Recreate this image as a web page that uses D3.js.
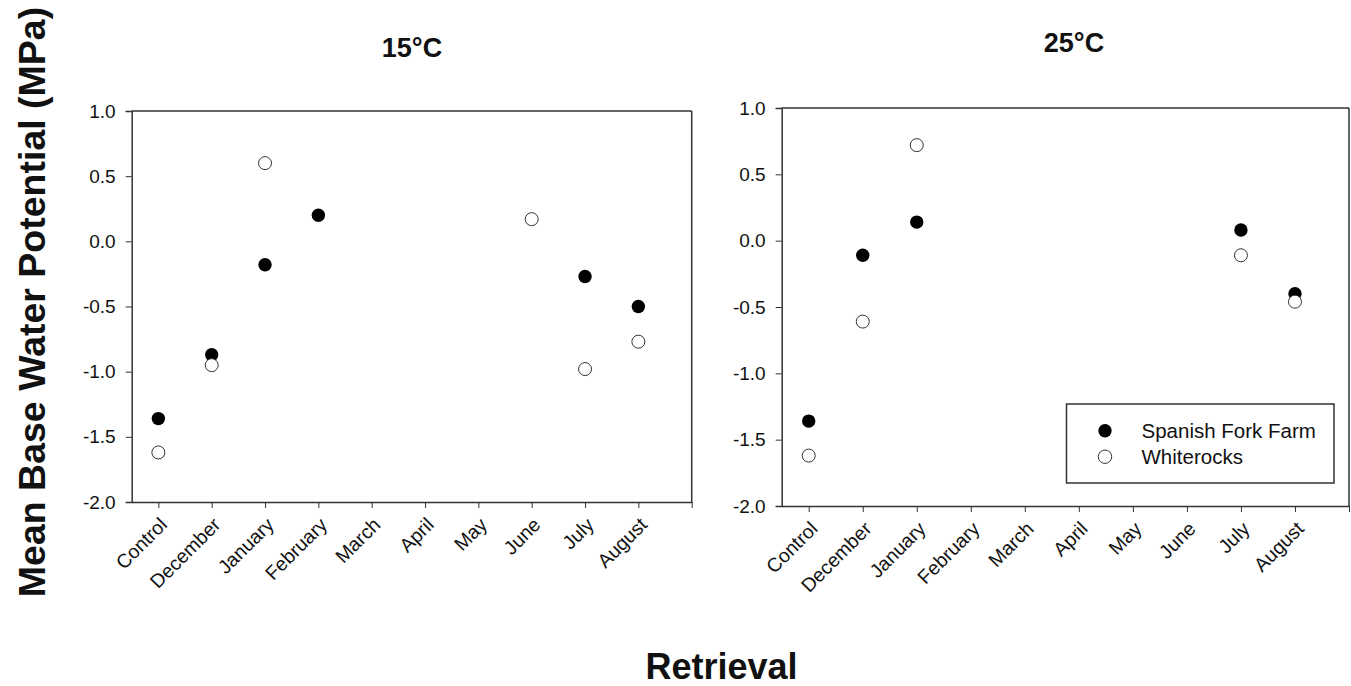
<!DOCTYPE html>
<html><head><meta charset="utf-8">
<script src="https://cdn.jsdelivr.net/npm/d3@7"></script>
<style>body{margin:0;background:#fff}svg{display:block;font-family:Arial,'Liberation Sans',sans-serif}</style>
</head><body>
<svg id="c" width="1351" height="686"></svg>
<script>
const categories = ["Control","December","January","February","March","April","May","June","July","August"];
const yTicks = [1.0, 0.5, 0.0, -0.5, -1.0, -1.5, -2.0];
const seriesNames = ["Spanish Fork Farm", "Whiterocks"];
// 15°C panel
const sff15 = [-1.36, -0.87, -0.18, 0.20, null, null, null, null, -0.27, -0.50];
const wr15  = [-1.62, -0.95, 0.60, null, null, null, null, 0.17, -0.98, -0.77];
// 25°C panel
const sff25 = [-1.36, -0.11, 0.14, null, null, null, null, null, 0.08, -0.40];
const wr25  = [-1.62, -0.61, 0.72, null, null, null, null, null, -0.11, -0.46];

const svg = d3.select("#c");
const AX = "#333";

function panel(opts){
  const {x0,x1,y0,y1,title,titleX,titleY,sff,wr,legend} = opts;
  const g = svg.append("g");
  const x = d3.scaleLinear().domain([-0.5, 10]).range([x0, x1]);
  const y = d3.scaleLinear().domain([-2, 1]).range([y1, y0]);
  g.append("line").attr("x1",x0).attr("x2",x1).attr("y1",y0).attr("y2",y0).attr("stroke",AX).attr("stroke-width",1.5);
  g.append("line").attr("x1",x1).attr("x2",x1).attr("y1",y0).attr("y2",y1).attr("stroke",AX).attr("stroke-width",1.5);
  const ya = g.append("g").attr("transform",`translate(${x0},0)`)
    .call(d3.axisLeft(y).tickValues(yTicks).tickFormat(d3.format(".1f")).tickSize(6).tickPadding(10));
  ya.select(".domain").attr("stroke",AX).attr("stroke-width",1.5);
  ya.selectAll(".tick line").attr("stroke",AX);
  ya.selectAll(".tick text").attr("font-size",19).attr("fill","#111").attr("font-family","Arial,'Liberation Sans',sans-serif")
    .text(d => d3.format(".1f")(d).replace("−","-"));
  const xa = g.append("g").attr("transform",`translate(0,${y1})`)
    .call(d3.axisBottom(x).tickValues(d3.range(0,11)).tickFormat(()=>"").tickSize(6).tickSizeOuter(0));
  xa.select(".domain").attr("stroke",AX).attr("stroke-width",1.5);
  xa.selectAll(".tick line").attr("stroke",AX);
  g.selectAll("text.xl").data(categories).enter().append("text").attr("class","xl")
    .attr("transform",(d,i)=>`translate(${x(i)+10},${y1+24}) rotate(-45)`)
    .attr("text-anchor","end").attr("font-size",19.5).attr("fill","#111").text(d=>d);
  g.append("text").attr("x",titleX).attr("y",titleY).attr("text-anchor","middle")
    .attr("font-size",27).attr("font-weight","bold").attr("fill","#111").text(title);
  const pts = (arr)=>arr.map((v,i)=>({i,v})).filter(d=>d.v!==null);
  g.selectAll("circle.f").data(pts(sff)).enter().append("circle").attr("class","f")
    .attr("cx",d=>x(d.i)).attr("cy",d=>y(d.v)).attr("r",6.7).attr("fill","#000");
  g.selectAll("circle.o").data(pts(wr)).enter().append("circle").attr("class","o")
    .attr("cx",d=>x(d.i)).attr("cy",d=>y(d.v)).attr("r",6.5).attr("fill","#fff").attr("stroke","#333").attr("stroke-width",1);
  if(legend){
    const L = g.append("g");
    L.append("rect").attr("x",1066.5).attr("y",404).attr("width",267.5).attr("height",79)
      .attr("fill","#fff").attr("stroke",AX).attr("stroke-width",1.5);
    seriesNames.forEach((nm,k)=>{
      const cy = 430.7 + k*26;
      L.append("circle").attr("cx",1105).attr("cy",cy).attr("r",6.7)
        .attr("fill",k===0?"#000":"#fff").attr("stroke",k===0?"none":"#333").attr("stroke-width",1);
      L.append("text").attr("x",1141.5).attr("y",cy).attr("dy","0.36em").attr("font-size",20.5).attr("fill","#111").text(nm);
    });
  }
}

panel({x0:131.7,x1:691.7,y0:111,y1:502,title:"15°C",titleX:412,titleY:57,sff:sff15,wr:wr15,legend:false});
panel({x0:781.7,x1:1349,y0:108,y1:506,title:"25°C",titleX:1074,titleY:52,sff:sff25,wr:wr25,legend:true});

svg.append("text").attr("transform","translate(45,302) rotate(-90)").attr("text-anchor","middle")
  .attr("font-size",37.5).attr("font-weight","bold").attr("fill","#111").text("Mean Base Water Potential (MPa)");
svg.append("text").attr("x",721.5).attr("y",679).attr("text-anchor","middle")
  .attr("font-size",36).attr("font-weight","bold").attr("fill","#111").text("Retrieval");
</script>
</body></html>
